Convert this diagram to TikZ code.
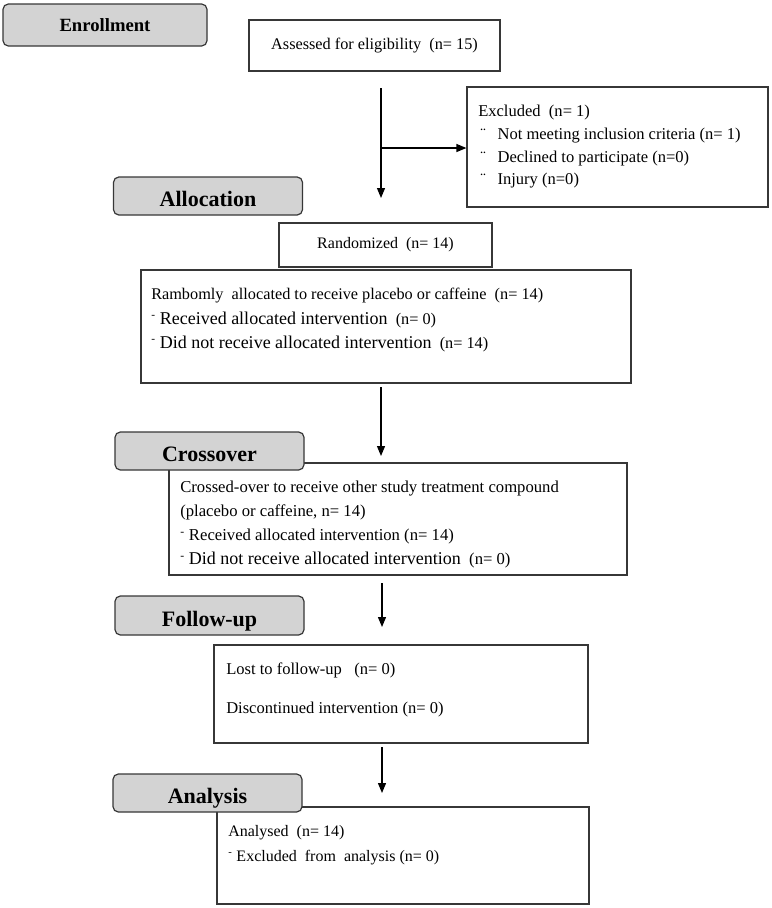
\documentclass[tikz,border=0pt]{standalone}
\usepackage{fontspec}
\setmainfont{Liberation Serif}
\usepackage{tikz}
\usetikzlibrary{shapes,arrows.meta}

\definecolor{headgray}{RGB}{211,211,211}
\definecolor{edgegray}{RGB}{55,55,55}

\newcommand{\wideline}{\fontsize{13.5}{18}\selectfont}

\begin{document}
\begin{tikzpicture}[x=0.75pt,y=-0.75pt,
	panel/.style={rectangle,draw=edgegray,line width=0.9pt,fill=white,inner sep=0pt},
	phase/.style={rectangle,draw=edgegray,line width=0.9pt,fill=headgray,rounded corners=4pt,inner sep=0pt,minimum width=141.75pt,minimum height=28.5pt,text height=16pt,text depth=0pt,font=\fontsize{16.5}{16.5}\selectfont\bfseries},
	txt/.style={anchor=north west,align=left,inner sep=0pt},
	flow/.style={-{Triangle[length=7.5pt,width=6pt]},line width=0.9pt}]

		\useasboundingbox (0,0) rectangle (772,908);

		\node[panel,minimum width=188.25pt,minimum height=38.25pt,font=\fontsize{12.2}{14}\selectfont] (assess) at (374.5,45.5) {Assessed for eligibility \ (n= 15)};
		\node[panel,minimum width=225.75pt,minimum height=90pt] (excl) at (617.5,147) {};
		\node[panel,minimum width=159.75pt,minimum height=33pt,font=\fontsize{12}{14}\selectfont] (rand) at (385.5,245) {Randomized \ (n= 14)};
		\node[panel,minimum width=367.5pt,minimum height=84.75pt] (alloc) at (386,326.5) {};
		\node[panel,minimum width=343.5pt,minimum height=84pt] (cross) at (398,519) {};
		\node[panel,minimum width=280.5pt,minimum height=73.5pt] (lost) at (401,694) {};
		\node[panel,minimum width=279pt,minimum height=72.75pt] (anal) at (403,855.5) {};

		\node[txt,font=\fontsize{12.4}{17}\selectfont] (exclText) at (478,105) {Excluded \ (n= 1)\\
			\hspace{1.5pt}\makebox[13pt][l]{¨}Not meeting inclusion criteria (n= 1)\\
			\hspace{1.5pt}\makebox[13pt][l]{¨}Declined to participate (n=0)\\
			\hspace{1.5pt}\makebox[13pt][l]{¨}Injury (n=0)};
		\node[txt,font=\fontsize{12.2}{18.4}\selectfont] (allocText) at (151,288) {Rambomly \ allocated to receive placebo or caffeine \ (n= 14)\\
			\textsuperscript{-} {\wideline Received allocated intervention} \ (n= 0)\\
			\textsuperscript{-} {\wideline Did not receive allocated intervention} \ (n= 14)};
		\node[txt,font=\fontsize{12.5}{18}\selectfont] (crossText) at (180,481) {Crossed-over to receive other study treatment compound\\
			(placebo or caffeine, n= 14)\\
			\textsuperscript{-} Received allocated intervention (n= 14)\\
			\textsuperscript{-} {\wideline Did not receive allocated intervention} \ (n= 0)};
		\node[txt,font=\fontsize{12.4}{29}\selectfont] (lostText) at (226,663) {Lost to follow-up \ \ (n= 0)\\
			Discontinued intervention (n= 0)};
		\node[txt,font=\fontsize{12}{18.75}\selectfont] (analText) at (228,825) {Analysed \ (n= 14)\\
			\textsuperscript{-} Excluded \ from \ analysis (n= 0)};

		% phase labels
		\node[phase,minimum width=153pt,minimum height=31.5pt,text height=9.3pt,font=\fontsize{14}{14}\selectfont\bfseries] (enrol) at (105,25) {Enrollment};
		\node[phase] (allocHead) at (208,196) {Allocation};
		\node[phase] (crossHead) at (209.5,451) {Crossover};
		\node[phase,minimum height=29.25pt] (followHead) at (209.5,615.5) {Follow-up};
		\node[phase] (analHead) at (207.5,793) {Analysis};

		% arrows
		\coordinate (s1) at (381,88);
		\coordinate (e1) at (381,198);
		\coordinate (b1) at (381,148);
		\coordinate (s2) at (381,387);
		\coordinate (e2) at (381,456);
		\coordinate (s3) at (382,583);
		\coordinate (e3) at (382,627);
		\coordinate (s4) at (382,747);
		\coordinate (e4) at (382,793);

		\path[flow,draw] (s1) -- (e1);
		\path[flow,draw] (b1) -- (b1 -| excl.west);
		\path[flow,draw] (s2) -- (e2);
		\path[flow,draw] (s3) -- (e3);
		\path[flow,draw] (s4) -- (e4);

\end{tikzpicture}
\end{document}
